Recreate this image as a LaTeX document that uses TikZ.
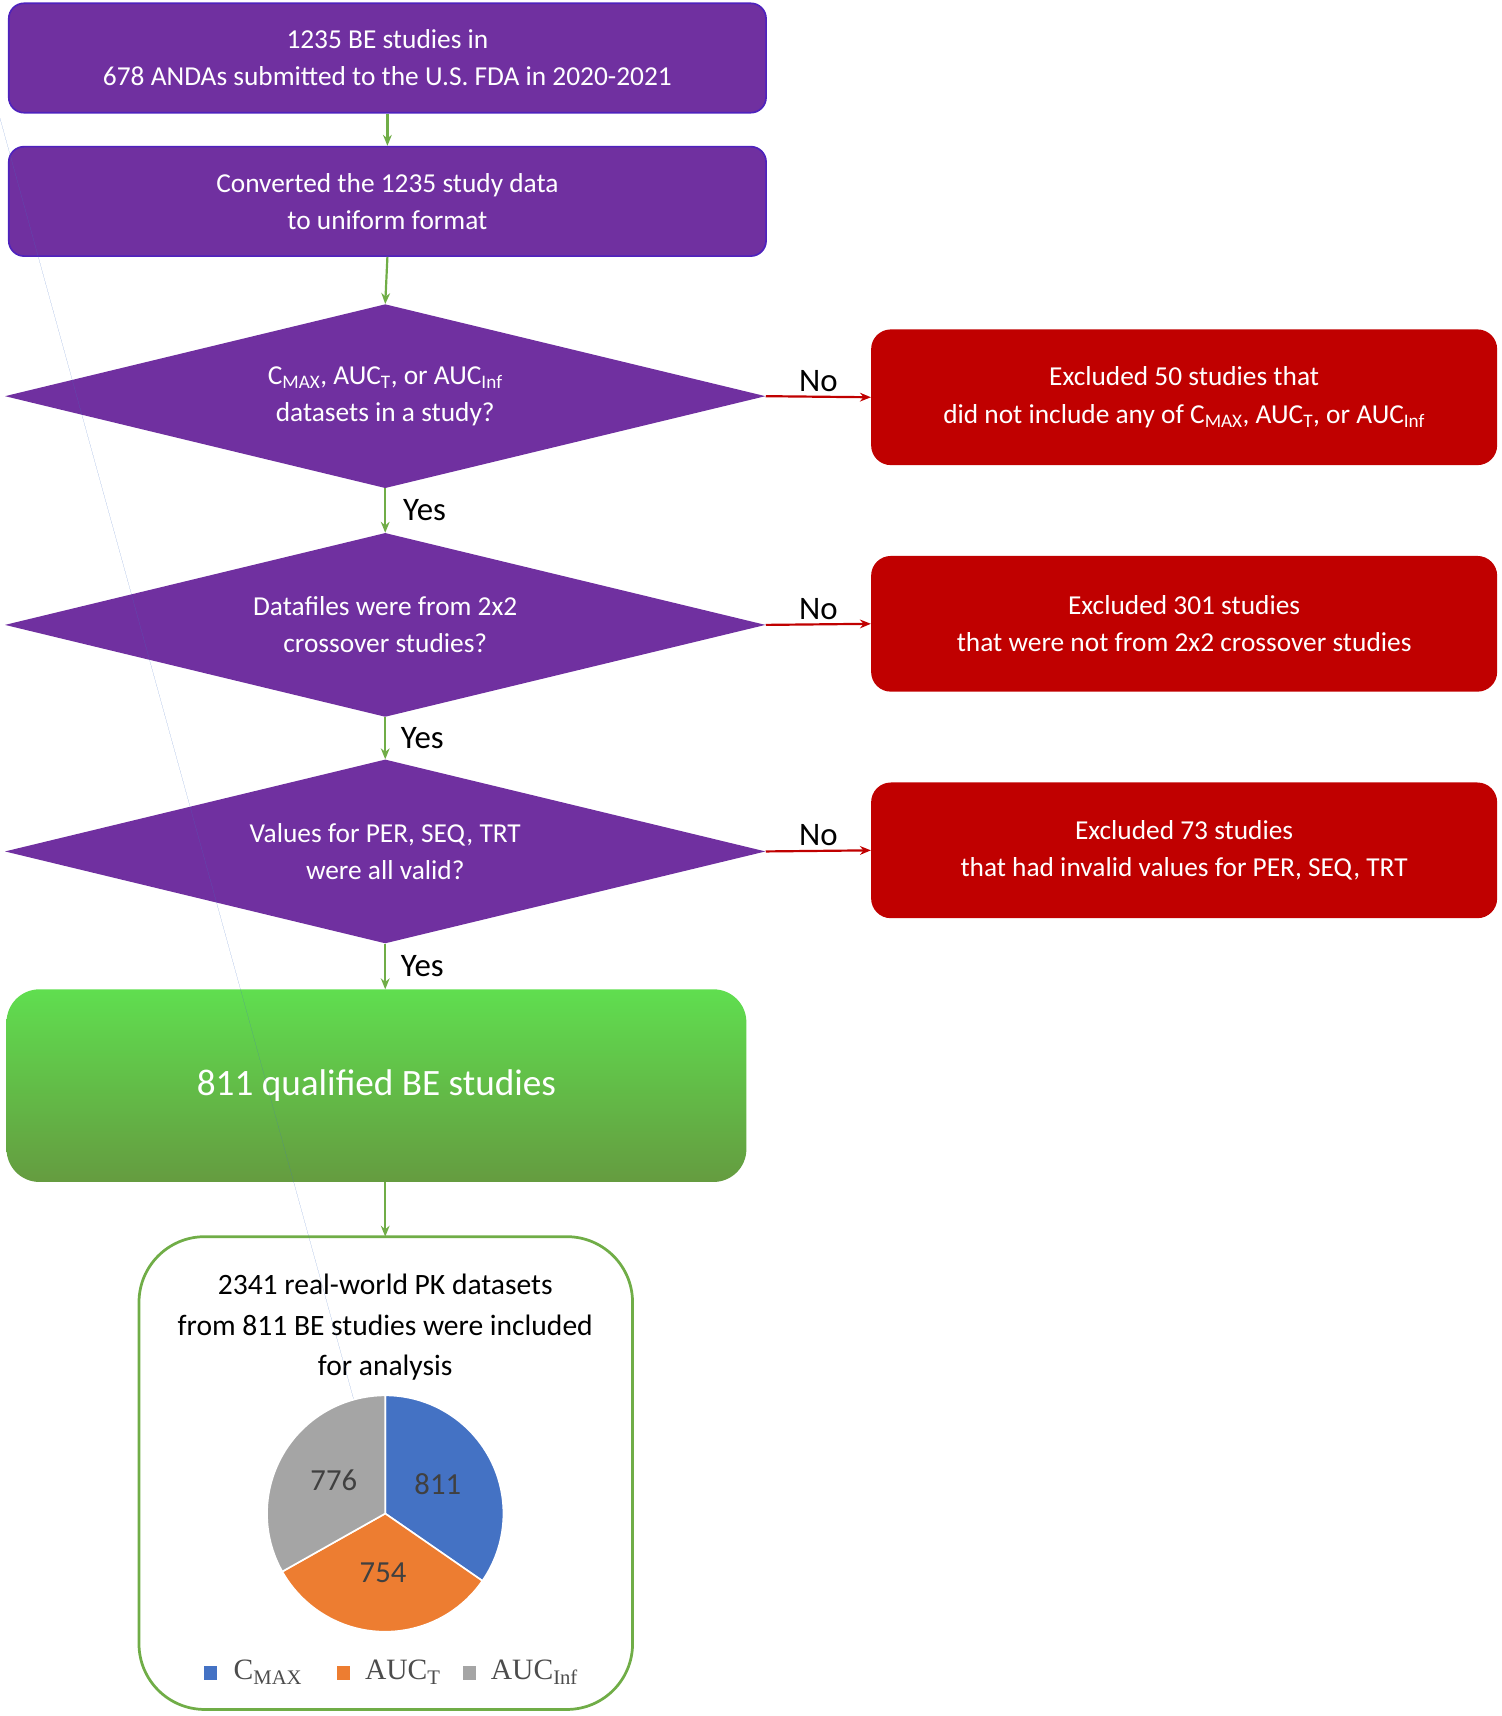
\documentclass[tikz,border=0pt]{standalone}
\usepackage{fontspec}
\setmainfont{Carlito}
\newfontfamily\legfont{Liberation Serif}
\usetikzlibrary{shapes.geometric,arrows.meta}
\definecolor{purp}{HTML}{7030A0}
\definecolor{redb}{HTML}{C00000}
\definecolor{grn}{HTML}{70AD47}
\definecolor{pblue}{HTML}{4472C4}
\definecolor{porange}{HTML}{ED7D31}
\definecolor{pgray}{HTML}{A5A5A5}
\tikzset{
  pbox/.style={draw=purp!70!blue, line width=1.5pt, fill=purp, rounded corners=14pt, text=white, align=center, font=\fontsize{25}{34}\selectfont, minimum width=692pt, minimum height=100pt, inner sep=0pt},
  pdia/.style={diamond, fill=purp, aspect=4.1, text=white, align=center, font=\fontsize{25}{34}\selectfont, minimum width=695pt, minimum height=168pt, inner sep=0pt},
  rbox/.style={fill=redb, rounded corners=18pt, text=white, align=center, font=\fontsize{25}{34}\selectfont, minimum width=572pt, minimum height=124pt, inner sep=0pt},
  garr/.style={draw=grn, line width=2pt, -{Stealth[length=10pt,width=8pt]}},
  rarr/.style={draw=redb, line width=2pt, -{Stealth[length=10pt,width=8pt]}},
  lab/.style={font=\fontsize{30}{34}\selectfont, text=black}
}
\begin{document}
\begin{tikzpicture}[x=1pt,y=-1pt]
\useasboundingbox (0,0) rectangle (1372,1568);
\node[pbox] (b1) at (354,53) {1235 BE studies in\\678 ANDAs submitted to the U.S. FDA in 2020-2021};
\node[pbox] (b2) at (354,184) {Converted the 1235 study data\\to uniform format};
\node[pdia] (d1) at (352,362) {C\textsubscript{MAX}, AUC\textsubscript{T}, or AUC\textsubscript{Inf}\\datasets in a study?};
\node[pdia] (d2) at (352,571) {Datafiles were from 2x2\\crossover studies?};
\node[pdia] (d3) at (352,778) {Values for PER, SEQ, TRT\\were all valid?};
\node[rbox] (r1) at (1082,363) {Excluded 50 studies that\\did not include any of C\textsubscript{MAX}, AUC\textsubscript{T}, or AUC\textsubscript{Inf}};
\node[rbox] (r2) at (1082,570) {Excluded 301 studies\\that were not from 2x2 crossover studies};
\node[rbox] (r3) at (1082,777) {Excluded 73 studies\\that had invalid values for PER, SEQ, TRT};
\shade[top color=green!50!grn!80!white, bottom color=grn!90!black, rounded corners=30pt] (6,904) rectangle (682,1080);
\node[font=\fontsize{34}{40}\selectfont, text=white] (g) at (344,992) {811 qualified BE studies};
\coordinate (gtop) at (352,904);
\coordinate (gbot) at (352,1080);
\draw[grn, line width=2.5pt, rounded corners=60pt, fill=white] (127,1130) rectangle (578,1562);
\coordinate (ftop) at (352,1130);
\node[align=center, font=\fontsize{27}{37}\selectfont] (t) at (352,1213) {2341 real-world PK datasets\\from 811 BE studies were included\\for analysis};
\coordinate (pc) at (352,1383);
\fill[pblue] (pc) -- (90:108) ++(0,0) -- cycle;
\begin{scope}[shift={(352,1383)}]
\fill[pblue, draw=white, line width=1.5pt] (0,0) -- (-90:108) arc[start angle=-90, end angle=34.7, radius=108] -- cycle;
\fill[porange, draw=white, line width=1.5pt] (0,0) -- (34.7:108) arc[start angle=34.7, end angle=150.6, radius=108] -- cycle;
\fill[pgray, draw=white, line width=1.5pt] (0,0) -- (150.6:108) arc[start angle=150.6, end angle=270, radius=108] -- cycle;
\end{scope}
\node[font=\fontsize{28}{30}\selectfont, text=black!75] (n1) at (400,1356) {811};
\node[font=\fontsize{28}{30}\selectfont, text=black!75] (n2) at (350,1437) {754};
\node[font=\fontsize{28}{30}\selectfont, text=black!75] (n3) at (305,1353) {776};
\fill[pblue] (186,1522) rectangle (198,1535);
\node[anchor=west, font=\legfont\fontsize{27}{30}\selectfont, text=black!70] (l1) at (210,1528) {C\textsubscript{MAX}};
\fill[porange] (308,1522) rectangle (320,1535);
\node[anchor=west, font=\legfont\fontsize{27}{30}\selectfont, text=black!70] (l2) at (330,1528) {AUC\textsubscript{T}};
\fill[pgray] (423,1522) rectangle (435,1535);
\node[anchor=west, font=\legfont\fontsize{27}{30}\selectfont, text=black!70] (l3) at (445,1528) {AUC\textsubscript{Inf}};
\draw[garr] (b1.south) -- (b2.north);
\draw[garr] (b2.south) -- (d1.north);
\draw[garr] (d1.south) -- node[lab, right=12pt] {Yes} (d2.north);
\draw[garr] (d2.south) -- node[lab, right=10pt] {Yes} (d3.north);
\draw[garr] (d3.south) -- node[lab, right=10pt] {Yes} (gtop);
\draw[garr] (gbot) -- (ftop);
\draw[rarr] (d1.east) -- node[lab, above=0pt] {No} (r1.west);
\draw[rarr] (d2.east) -- node[lab, above=0pt] {No} (r2.west);
\draw[rarr] (d3.east) -- node[lab, above=0pt] {No} (r3.west);
\end{tikzpicture}
\end{document}
